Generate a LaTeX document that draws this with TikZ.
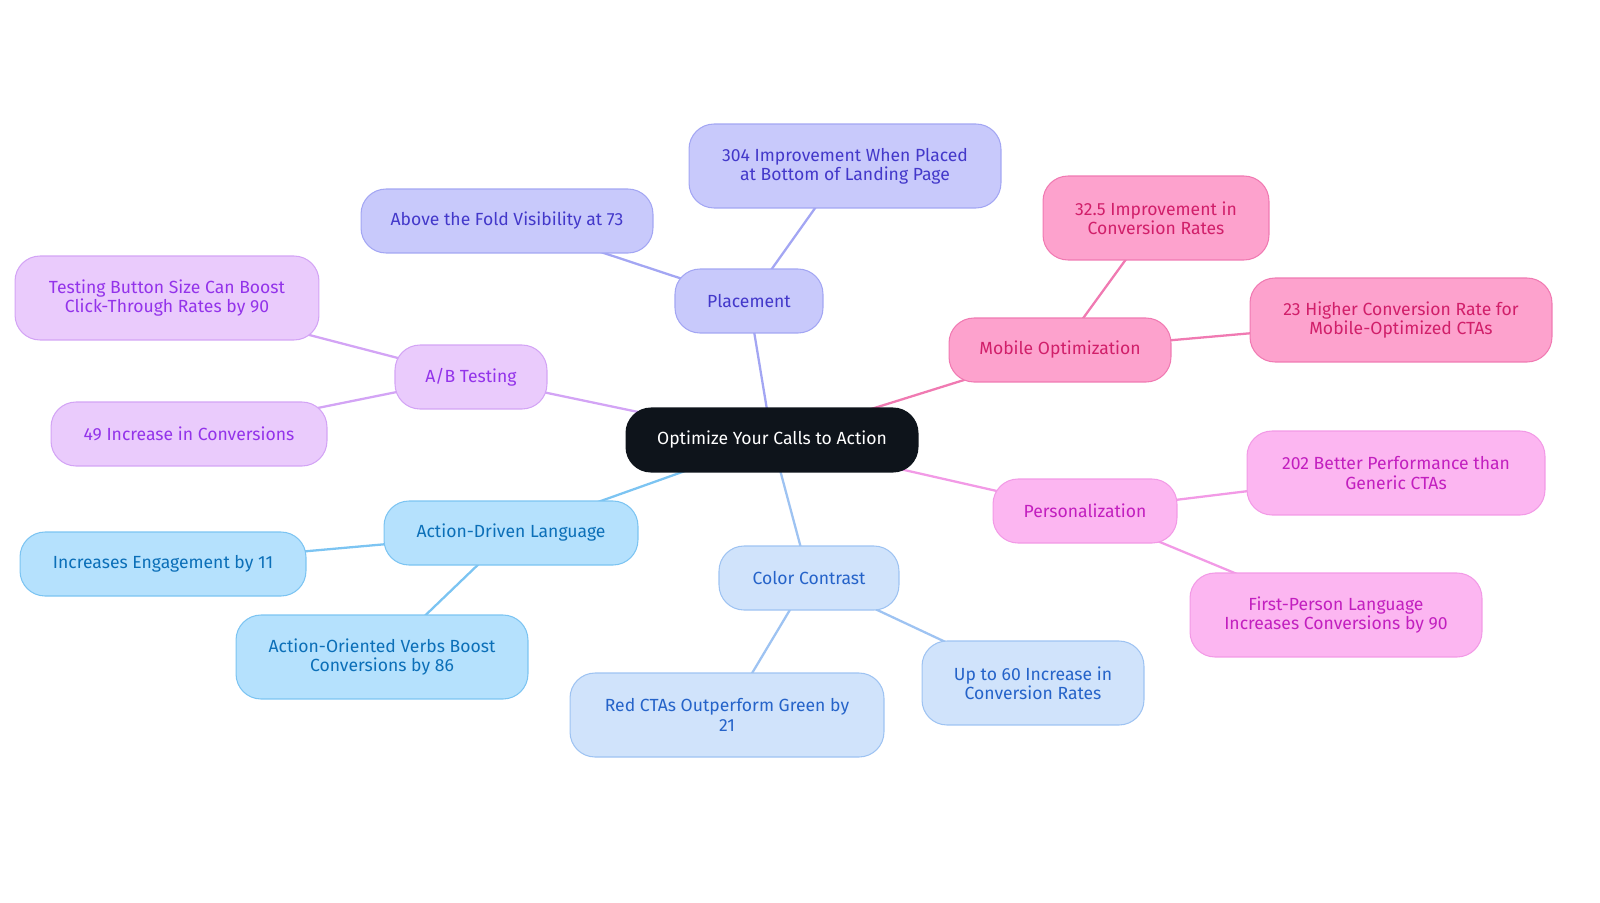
\documentclass[tikz,border=0pt]{standalone}
\usepackage{fontspec}
\setmainfont{Fira Sans}
\usetikzlibrary{backgrounds}
\definecolor{rootfill}{HTML}{0E141B}
\definecolor{plfill}{HTML}{C8C9FB}\definecolor{pltext}{HTML}{4338CA}\definecolor{plline}{HTML}{A3A6F3}
\definecolor{abfill}{HTML}{EACBFC}\definecolor{abtext}{HTML}{9333EA}\definecolor{abline}{HTML}{D3A4F5}
\definecolor{adfill}{HTML}{B5E1FD}\definecolor{adtext}{HTML}{0B6FB8}\definecolor{adline}{HTML}{7CC4F2}
\definecolor{ccfill}{HTML}{D0E3FB}\definecolor{cctext}{HTML}{2563C9}\definecolor{ccline}{HTML}{9EC3F2}
\definecolor{mofill}{HTML}{FDA2CD}\definecolor{motext}{HTML}{D11F6A}\definecolor{moline}{HTML}{F07AB2}
\definecolor{pefill}{HTML}{FCB6F1}\definecolor{petext}{HTML}{C21FBF}\definecolor{peline}{HTML}{F29AE6}
\tikzset{
  box/.style={rounded corners=0.5cm, draw, line width=0.6pt, align=center, inner sep=2pt,
    font=\fontsize{10}{11}\selectfont, minimum height=1.28cm},
  tall/.style={minimum height=1.68cm},
  pl/.style={box, fill=plfill, draw=plline, text=pltext},
  ab/.style={box, fill=abfill, draw=abline, text=abtext},
  ad/.style={box, fill=adfill, draw=adline, text=adtext},
  cc/.style={box, fill=ccfill, draw=ccline, text=cctext},
  mo/.style={box, fill=mofill, draw=moline, text=motext},
  pe/.style={box, fill=pefill, draw=peline, text=petext},
  link/.style={line width=1.3pt}
}
\begin{document}
\begin{tikzpicture}[x=0.02cm,y=-0.02cm]
    \useasboundingbox (0,0) rectangle (1600,903);

    % centre
    \node[box, fill=rootfill, draw=rootfill, text=white, minimum width=5.84cm] (root) at (772,440) {Optimize Your Calls to Action};

    % Placement
    \node[pl, minimum width=2.96cm] (place) at (749,301) {Placement};
    \node[pl, tall, minimum width=6.24cm] (place1) at (845,166) {304 Improvement When Placed\\at Bottom of Landing Page};
    \node[pl, minimum width=5.84cm] (place2) at (507,221) {Above the Fold Visibility at 73};

    % A/B Testing
    \node[ab, minimum width=3.04cm] (abtest) at (471,377) {A/B Testing};
    \node[ab, tall, minimum width=6.08cm] (abtest1) at (167,298) {Testing Button Size Can Boost\\Click-Through Rates by 90};
    \node[ab, minimum width=5.52cm] (abtest2) at (189,434) {49 Increase in Conversions};

    % Action-Driven Language
    \node[ad, minimum width=5.08cm] (action) at (511,533) {Action-Driven Language};
    \node[ad, minimum width=5.72cm] (action1) at (163,564) {Increases Engagement by 11};
    \node[ad, tall, minimum width=5.84cm] (action2) at (382,657) {Action-Oriented Verbs Boost\\Conversions by 86};

    % Color Contrast
    \node[cc, minimum width=3.6cm] (color) at (809,578) {Color Contrast};
    \node[cc, tall, minimum width=6.28cm] (color1) at (727,715) {Red CTAs Outperform Green by\\21};
    \node[cc, tall, minimum width=4.44cm] (color2) at (1033,683) {Up to 60 Increase in\\Conversion Rates};

    % Mobile Optimization
    \node[mo, minimum width=4.44cm] (mobile) at (1060,350) {Mobile Optimization};
    \node[mo, tall, minimum width=4.52cm] (mobile1) at (1156,218) {32.5 Improvement in\\Conversion Rates};
    \node[mo, tall, minimum width=6.04cm] (mobile2) at (1401,320) {23 Higher Conversion Rate for\\Mobile-Optimized CTAs};

    % Personalization
    \node[pe, minimum width=3.68cm] (person) at (1085,511) {Personalization};
    \node[pe, tall, minimum width=5.96cm] (person1) at (1396,473) {202 Better Performance than\\Generic CTAs};
    \node[pe, tall, minimum width=5.84cm] (person2) at (1336,615) {First-Person Language\\Increases Conversions by 90};

    \begin{scope}[on background layer]
        \draw[link, plline] (root.center) -- (place.center) -- (place1.center) (place.center) -- (place2.center);
        \draw[link, abline] (root.center) -- (abtest.center) -- (abtest1.center) (abtest.center) -- (abtest2.center);
        \draw[link, adline] (root.center) -- (action.center) -- (action1.center) (action.center) -- (action2.center);
        \draw[link, ccline] (root.center) -- (color.center) -- (color1.center) (color.center) -- (color2.center);
        \draw[link, moline] (root.center) -- (mobile.center) -- (mobile1.center) (mobile.center) -- (mobile2.center);
        \draw[link, peline] (root.center) -- (person.center) -- (person1.center) (person.center) -- (person2.center);
    \end{scope}
\end{tikzpicture}
\end{document}
